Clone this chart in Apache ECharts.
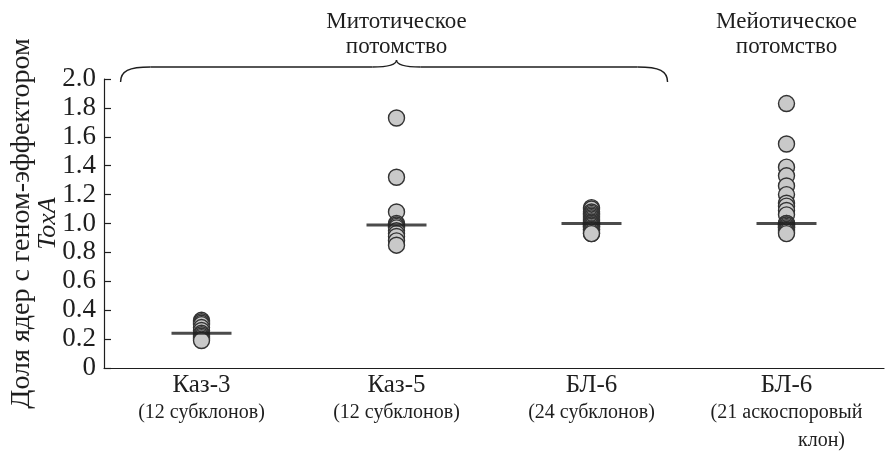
<!DOCTYPE html>
<html>
<head>
<meta charset="utf-8">
<script src="https://cdn.jsdelivr.net/npm/echarts@6/dist/echarts.min.js"></script>
<style>
  html, body { margin: 0; padding: 0; background: #fff; }
  #chart { width: 885px; height: 458px; }
</style>
</head>
<body>
<div id="chart"></div>
<script>
// Isolates and the number of clones tested for each
const categories = ['Каз-3', 'Каз-5', 'БЛ-6', 'БЛ-6'];
const cloneNotes = ['(12 субклонов)', '(12 субклонов)', '(24 субклонов)', '(21 аскоспоровый'];
const cloneNotesTail = ['', '', '', 'клон)'];

// Share of nuclei carrying the ToxA effector gene, per clone
const kaz3 = [0.33, 0.32, 0.31, 0.30, 0.28, 0.26, 0.24, 0.23, 0.22, 0.21, 0.20, 0.19];
const kaz5 = [1.73, 1.32, 1.08, 1.00, 0.99, 0.98, 0.97, 0.95, 0.93, 0.91, 0.88, 0.85];
const bl6Mitotic = [1.11, 1.10, 1.08, 1.07, 1.06, 1.05, 1.04, 1.03, 1.02, 1.01, 1.00, 1.00,
                    1.00, 0.99, 0.99, 0.98, 0.98, 0.97, 0.96, 0.96, 0.95, 0.94, 0.93, 0.93];
const bl6Meiotic = [1.83, 1.55, 1.39, 1.33, 1.26, 1.20, 1.14, 1.12, 1.09, 1.06, 1.00,
                    1.00, 0.99, 0.99, 0.98, 0.97, 0.97, 0.96, 0.95, 0.94, 0.93];
const medians = [0.24, 0.99, 1.00, 1.00];

// Upper annotations
const mitoticTitle = ['Митотическое', 'потомство'];
const meioticTitle = ['Мейотическое', 'потомство'];

const groups = [kaz3, kaz5, bl6Mitotic, bl6Meiotic];
const points = [];
groups.forEach((vals, i) => vals.forEach(v => points.push([i, v])));

const SERIF = '"Liberation Serif", "DejaVu Serif", serif';
const INK = '#1e1e1e';

const chart = echarts.init(document.getElementById('chart'), null, { renderer: 'canvas' });

chart.setOption({
  animation: false,
  backgroundColor: '#fff',
  textStyle: { fontFamily: SERIF, color: INK },
  grid: { left: 104, right: 1, top: 79, bottom: 90, containLabel: false, outerBoundsMode: 'none' },
  xAxis: {
    type: 'category',
    data: categories.map((c, i) => c + ' ' + i),
    boundaryGap: true,
    axisLine: { lineStyle: { color: INK, width: 1.2 } },
    axisTick: { inside: true, length: 6, lineStyle: { color: INK, width: 1.2 } },
    axisLabel: {
      margin: 3,
      interval: 0,
      hideOverlap: false,
      fontFamily: SERIF,
      color: INK,
      formatter: (value, index) => {
        let s = '{n|' + categories[index] + '}\n{s|' + cloneNotes[index] + '}';
        if (cloneNotesTail[index]) s += '\n{k|' + cloneNotesTail[index] + '}';
        return s;
      },
      rich: {
        n: { fontFamily: SERIF, fontSize: 25, lineHeight: 28, color: INK },
        s: { fontFamily: SERIF, fontSize: 20, lineHeight: 28, color: INK },
        k: { fontFamily: SERIF, fontSize: 20, lineHeight: 28, color: INK, padding: [0, 0, 0, 70] }
      }
    },
    splitLine: { show: false }
  },
  yAxis: {
    type: 'value',
    min: 0,
    max: 2,
    interval: 0.2,
    name: '{a|Доля ядер с геном-эффектором}\n{b|ToxA}',
    nameLocation: 'middle',
    nameGap: 42,
    nameMoveOverlap: false,
    nameTextStyle: {
      rich: {
        a: { fontFamily: SERIF, fontSize: 28, lineHeight: 27, color: INK },
        b: { fontFamily: SERIF, fontSize: 26, lineHeight: 27, color: INK, fontStyle: 'italic' }
      }
    },
    axisLine: { show: true, lineStyle: { color: INK, width: 1.2 } },
    axisTick: { show: true, inside: true, length: 7, lineStyle: { color: INK, width: 1.2 } },
    axisLabel: {
      margin: 8,
      fontFamily: SERIF,
      fontSize: 27,
      color: INK,
      formatter: v => (v === 0 ? '0' : v.toFixed(1))
    },
    splitLine: { show: false }
  },
  series: [
    {
      type: 'scatter',
      data: points,
      symbol: 'circle',
      symbolSize: 16,
      itemStyle: { color: '#c9c9c9', borderColor: '#333', borderWidth: 1.4, opacity: 1 },
      z: 2
    },
    {
      type: 'scatter',
      data: medians.map((m, i) => [i, m]),
      symbol: 'rect',
      symbolSize: [60, 3],
      itemStyle: { color: INK },
      z: 3
    }
  ]
});

// Brace over the mitotic groups and the two group titles
function drawAnnotations() {
  const x0 = chart.convertToPixel({ xAxisIndex: 0 }, 0);
  const x1 = chart.convertToPixel({ xAxisIndex: 0 }, 1);
  const x2 = chart.convertToPixel({ xAxisIndex: 0 }, 2);
  const x3 = chart.convertToPixel({ xAxisIndex: 0 }, 3);
  const band = x1 - x0;
  const L = x0 - 0.415 * band;
  const R = x2 + 0.39 * band;
  const C = x1;
  const yEnd = 82, yBar = 67, yTip = 60;
  const stroke = { fill: null, stroke: INK, lineWidth: 1.4 };

  const curve = (a, b, c, d, e, f, g, h) => ({
    type: 'bezierCurve',
    shape: { x1: a, y1: b, cpx1: c, cpy1: d, cpx2: e, cpy2: f, x2: g, y2: h },
    style: stroke
  });
  const seg = (a, b, c, d) => ({
    type: 'line',
    shape: { x1: a, y1: b, x2: c, y2: d },
    style: stroke
  });

  const title = (x, lines) => ({
    type: 'text',
    x: x,
    y: 9,
    style: {
      text: lines.join('\n'),
      fontFamily: SERIF,
      fontSize: 23,
      lineHeight: 25,
      fill: INK,
      align: 'center',
      verticalAlign: 'top'
    }
  });

  chart.setOption({
    graphic: [
      curve(L, yEnd, L, yBar + 4, L + 8, yBar, L + 30, yBar),
      seg(L + 30, yBar, C - 24, yBar),
      curve(C - 24, yBar, C - 8, yBar, C, yBar - 2, C, yTip),
      curve(C, yTip, C, yBar - 2, C + 8, yBar, C + 24, yBar),
      seg(C + 24, yBar, R - 30, yBar),
      curve(R - 30, yBar, R - 8, yBar, R, yBar + 4, R, yEnd),
      title(C, mitoticTitle),
      title(x3, meioticTitle)
    ]
  });
}
drawAnnotations();
</script>
</body>
</html>
